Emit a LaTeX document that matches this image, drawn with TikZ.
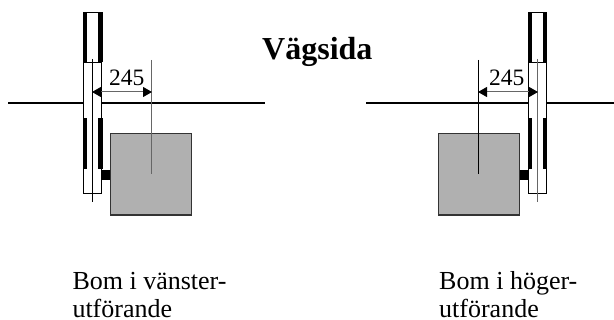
\documentclass[tikz,border=0pt]{standalone}
\usepackage{fontspec}
\setmainfont{Liberation Serif}
\usetikzlibrary{arrows.meta}
\tikzset{
	road/.style={line width=2.2pt,black},
	barrier/.style={fill=black,draw=none},
	housing/.style={draw=black,fill=white,line width=1pt},
	cabinet/.style={draw=black!80,fill=black!31,line width=1.2pt},
	dim/.style={line width=1pt,black!60,{Triangle[length=9pt,width=10pt,black]}-{Triangle[length=9pt,width=10pt,black]}},
	dimtext/.style={anchor=base west,inner sep=0pt,font=\fontsize{23.5}{24}\selectfont},
	caption/.style={anchor=south west,inner sep=0pt,align=left,font=\fontsize{26}{28}\selectfont}
}
\begin{document}
\begin{tikzpicture}[x=1pt,y=-1pt]
	\useasboundingbox (0,0) rectangle (614,320);
	% left side
	\coordinate (rl1) at (8,103);
	\coordinate (rl2) at (265,103);
	\coordinate (cl1) at (92.3,59);
	\coordinate (cl2) at (92.3,202);
	\coordinate (el1) at (151.7,60);
	\coordinate (el2) at (151.7,174);
	\coordinate (al1) at (92,92);
	\coordinate (al2) at (152,92);
	\draw[road] (rl1) -- (rl2);
	\fill[barrier] (83,12) rectangle (87.2,62.5);
	\fill[barrier] (98,12) rectangle (102.5,62.5);
	\fill[barrier] (83,12) rectangle (102.5,13);
	\draw[housing] (83.7,62.5) rectangle (101.7,193.5);
	\fill[barrier] (83,118) rectangle (87.2,169);
	\fill[barrier] (98,118) rectangle (102.5,169);
	\fill[barrier] (101.7,170) rectangle (110.3,180);
	\draw[cabinet] (110.3,133.7) rectangle (191.3,215);
	\draw[line width=1pt,black] (cl1) -- (cl2);
	\draw[line width=1pt,black!60] (el1) -- (el2);
	\draw[dim] (al1) -- (al2);
	\node[dimtext] (ll) at (109,85.3) {245};
	% right side
	\coordinate (rr1) at (366,103);
	\coordinate (rr2) at (614,103);
	\coordinate (cr1) at (537.7,59);
	\coordinate (cr2) at (537.7,202);
	\coordinate (er1) at (478,60);
	\coordinate (er2) at (478,174);
	\coordinate (ar1) at (478,92);
	\coordinate (ar2) at (538,92);
	\draw[road] (rr1) -- (rr2);
	\fill[barrier] (528,12) rectangle (532.2,62.5);
	\fill[barrier] (542.8,12) rectangle (547.2,62.5);
	\fill[barrier] (528,12) rectangle (547.2,13);
	\draw[housing] (528.7,62.5) rectangle (546.5,193.5);
	\fill[barrier] (528,118) rectangle (532.2,169);
	\fill[barrier] (542.8,118) rectangle (547.2,169);
	\fill[barrier] (519.7,170) rectangle (528.5,180);
	\draw[cabinet] (438.3,133.7) rectangle (519.7,215);
	\draw[line width=1pt,black!60] (cr1) -- (cr2);
	\draw[line width=1pt,black] (er1) -- (er2);
	\draw[dim] (ar1) -- (ar2);
	\node[dimtext] (lr) at (489,85.3) {245};
	% texts
	\node[anchor=base west,inner sep=0pt,font=\bfseries\fontsize{32}{32}\selectfont] (vag) at (262,60) {Vägsida};
	\node[caption] (bl) at (72.3,318.3) {Bom i vänster-\\utförande};
	\node[caption] (br) at (439,317.7) {Bom i höger-\\utförande};
\end{tikzpicture}
\end{document}
